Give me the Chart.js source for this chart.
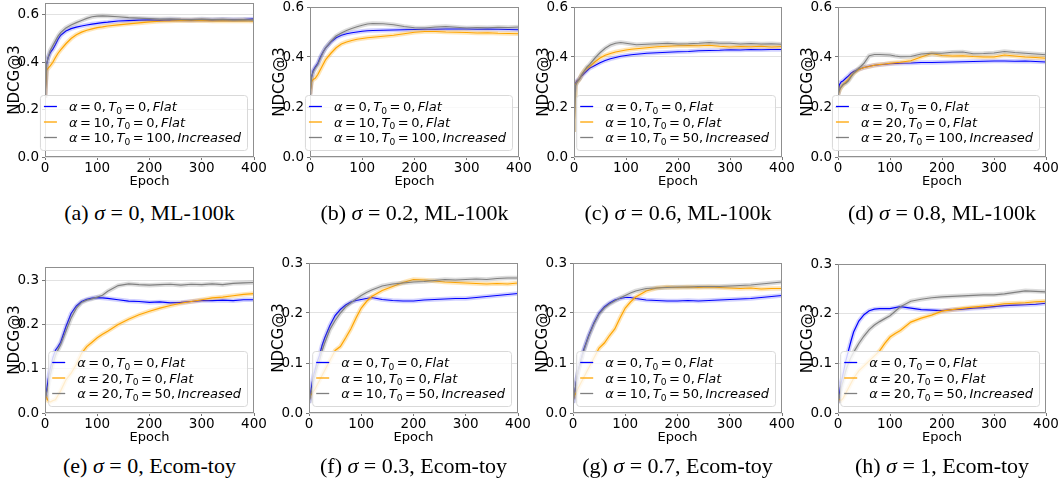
<!DOCTYPE html>
<html><head><meta charset="utf-8">
<script src="https://cdn.jsdelivr.net/npm/chart.js@4.4.0/dist/chart.umd.min.js"></script>
<style>
body{margin:0;background:#fff;width:1060px;height:482px;overflow:hidden;position:relative}
canvas{position:absolute}
.cap{position:absolute;font-family:'Liberation Serif','Times New Roman',serif;font-size:22px;line-height:26px;height:26px;white-space:nowrap;transform:translateX(-50%);color:#000}
</style></head><body>
<script>
// ---------------- DATA ----------------
const epochs = [0,3,6,10,15,20,25,30,40,50,60,70,80,90,100,110,120,140,160,180,200,220,240,260,280,300,320,340,360,380,400];
const xTicks = [0,100,200,300,400];
const topTicks = [0,0.2,0.4,0.6];
const botTicks = [0,0.1,0.2,0.3];

// (a) sigma=0, ML-100k
const aBlue   = [0.25,0.39,0.42,0.44,0.455,0.475,0.497,0.514,0.532,0.542,0.548,0.553,0.557,0.561,0.564,0.567,0.569,0.574,0.576,0.578,0.579,0.577,0.579,0.578,0.577,0.579,0.578,0.58,0.579,0.58,0.583];
const aOrange = [0.25,0.365,0.375,0.385,0.4,0.42,0.438,0.452,0.478,0.5,0.516,0.527,0.535,0.541,0.546,0.549,0.553,0.558,0.562,0.566,0.57,0.573,0.574,0.576,0.575,0.576,0.574,0.575,0.574,0.575,0.573];
const aGray   = [0.25,0.39,0.42,0.45,0.47,0.49,0.51,0.525,0.545,0.557,0.567,0.576,0.585,0.592,0.595,0.596,0.595,0.592,0.588,0.586,0.584,0.582,0.583,0.581,0.58,0.582,0.58,0.581,0.579,0.58,0.578];
// (b) sigma=0.2, ML-100k
const bBlue   = [0.25,0.32,0.345,0.36,0.375,0.4,0.42,0.437,0.46,0.477,0.487,0.493,0.497,0.5,0.503,0.505,0.506,0.507,0.508,0.509,0.51,0.511,0.511,0.512,0.512,0.512,0.511,0.512,0.511,0.51,0.509];
const bOrange = [0.25,0.3,0.31,0.315,0.33,0.35,0.37,0.39,0.415,0.437,0.452,0.46,0.466,0.471,0.474,0.477,0.479,0.483,0.487,0.493,0.499,0.502,0.502,0.5,0.499,0.498,0.496,0.497,0.495,0.494,0.493];
const bGray   = [0.25,0.32,0.34,0.355,0.37,0.395,0.418,0.437,0.462,0.484,0.496,0.506,0.514,0.521,0.527,0.532,0.534,0.533,0.529,0.522,0.517,0.516,0.52,0.522,0.519,0.516,0.518,0.517,0.519,0.518,0.52];
// (c) sigma=0.6, ML-100k
const cBlue   = [0.26,0.295,0.305,0.312,0.325,0.335,0.345,0.355,0.366,0.377,0.386,0.393,0.398,0.403,0.406,0.409,0.411,0.415,0.417,0.419,0.421,0.422,0.425,0.426,0.427,0.429,0.428,0.43,0.429,0.43,0.43];
const cOrange = [0.1,0.29,0.3,0.31,0.33,0.345,0.355,0.362,0.38,0.396,0.407,0.414,0.42,0.424,0.428,0.431,0.433,0.437,0.441,0.443,0.445,0.446,0.445,0.447,0.443,0.44,0.442,0.441,0.443,0.44,0.442];
const cGray   = [0.1,0.285,0.3,0.31,0.33,0.345,0.36,0.37,0.395,0.417,0.435,0.448,0.455,0.458,0.455,0.452,0.449,0.451,0.453,0.455,0.452,0.453,0.455,0.458,0.455,0.455,0.452,0.454,0.452,0.453,0.451];
// (d) sigma=0.8, ML-100k
const dBlue   = [0.25,0.29,0.3,0.305,0.315,0.324,0.335,0.342,0.351,0.358,0.363,0.367,0.369,0.371,0.373,0.374,0.375,0.376,0.378,0.378,0.379,0.38,0.381,0.382,0.383,0.384,0.384,0.383,0.384,0.382,0.38];
const dOrange = [0.25,0.268,0.28,0.29,0.3,0.31,0.325,0.335,0.35,0.358,0.362,0.367,0.37,0.372,0.375,0.377,0.379,0.385,0.4,0.414,0.406,0.404,0.405,0.402,0.4,0.4,0.408,0.404,0.4,0.398,0.395];
const dGray   = [0.25,0.27,0.28,0.29,0.295,0.305,0.32,0.335,0.355,0.375,0.405,0.41,0.41,0.409,0.408,0.404,0.401,0.402,0.412,0.415,0.415,0.419,0.42,0.413,0.414,0.416,0.422,0.418,0.415,0.412,0.409];
// (e) sigma=0, Ecom-toy
const eBlue   = [0.03,0.05,0.075,0.1,0.125,0.142,0.15,0.16,0.195,0.225,0.242,0.252,0.257,0.26,0.261,0.26,0.259,0.256,0.253,0.252,0.25,0.251,0.249,0.25,0.252,0.254,0.254,0.255,0.254,0.256,0.256];
const eOrange = [0.04,0.035,0.028,0.025,0.028,0.03,0.04,0.05,0.075,0.09,0.11,0.135,0.15,0.16,0.17,0.178,0.185,0.2,0.212,0.222,0.23,0.237,0.243,0.248,0.252,0.256,0.26,0.262,0.265,0.268,0.27];
const eGray   = [0.03,0.045,0.06,0.085,0.11,0.13,0.143,0.155,0.185,0.215,0.237,0.25,0.255,0.258,0.262,0.266,0.275,0.288,0.292,0.29,0.289,0.29,0.291,0.289,0.291,0.29,0.292,0.29,0.293,0.294,0.295];
// (f) sigma=0.3, Ecom-toy
const fBlue   = [0.02,0.04,0.06,0.08,0.1,0.115,0.135,0.15,0.175,0.195,0.207,0.216,0.222,0.225,0.227,0.229,0.231,0.227,0.225,0.224,0.224,0.226,0.227,0.228,0.229,0.229,0.231,0.233,0.235,0.237,0.239];
const fOrange = [0.03,0.035,0.04,0.045,0.055,0.065,0.075,0.085,0.105,0.125,0.133,0.15,0.168,0.19,0.21,0.223,0.233,0.245,0.253,0.261,0.267,0.266,0.264,0.262,0.261,0.26,0.259,0.258,0.259,0.258,0.26];
const fGray   = [0.02,0.035,0.05,0.07,0.09,0.105,0.125,0.14,0.167,0.185,0.2,0.212,0.22,0.228,0.235,0.241,0.246,0.254,0.258,0.26,0.262,0.263,0.265,0.267,0.266,0.267,0.268,0.267,0.269,0.27,0.27];
// (g) sigma=0.7, Ecom-toy
const gBlue   = [0.02,0.04,0.06,0.085,0.105,0.125,0.14,0.155,0.18,0.2,0.212,0.22,0.226,0.229,0.231,0.231,0.229,0.226,0.225,0.224,0.224,0.225,0.224,0.225,0.226,0.227,0.228,0.229,0.231,0.233,0.235];
const gOrange = [0.03,0.035,0.04,0.05,0.06,0.07,0.08,0.09,0.11,0.13,0.14,0.155,0.168,0.19,0.21,0.222,0.232,0.244,0.25,0.252,0.251,0.252,0.251,0.252,0.251,0.25,0.249,0.25,0.248,0.249,0.249];
const gGray   = [0.02,0.04,0.06,0.083,0.103,0.122,0.138,0.153,0.178,0.198,0.21,0.218,0.224,0.23,0.235,0.24,0.244,0.249,0.25,0.251,0.252,0.252,0.253,0.253,0.253,0.254,0.255,0.256,0.258,0.26,0.262];
// (h) sigma=1, Ecom-toy
const hBlue   = [0.02,0.04,0.06,0.08,0.105,0.125,0.145,0.163,0.185,0.198,0.206,0.209,0.21,0.21,0.21,0.212,0.214,0.211,0.208,0.207,0.206,0.208,0.209,0.211,0.212,0.214,0.216,0.217,0.218,0.219,0.221];
const hOrange = [0.03,0.027,0.025,0.03,0.04,0.05,0.06,0.07,0.085,0.095,0.105,0.115,0.125,0.14,0.153,0.16,0.166,0.183,0.191,0.197,0.205,0.208,0.211,0.213,0.215,0.217,0.22,0.221,0.222,0.224,0.225];
const hGray   = [0.02,0.035,0.05,0.065,0.085,0.1,0.112,0.122,0.14,0.155,0.168,0.177,0.184,0.19,0.196,0.205,0.214,0.225,0.229,0.232,0.234,0.235,0.236,0.237,0.238,0.238,0.24,0.243,0.246,0.245,0.244];

// legend parameters per panel: alpha values, T0 values, schedules
const legAlpha = [[0,10,10],[0,10,10],[0,10,10],[0,20,20],[0,20,20],[0,10,10],[0,10,10],[0,20,20]];
const legT0    = [[0,0,100],[0,0,100],[0,0,50],[0,0,100],[0,0,50],[0,0,50],[0,0,50],[0,0,50]];
const schedules = ['Flat','Flat','Increased'];
// captions
const capLetters = ['a','b','c','d','e','f','g','h'];
const capSigmas  = ['0','0.2','0.6','0.8','0','0.3','0.7','1'];
const capData    = ['ML-100k','ML-100k','ML-100k','ML-100k','Ecom-toy','Ecom-toy','Ecom-toy','Ecom-toy'];
const yMaxes     = [0.65,0.6,0.6,0.6,0.33,0.3,0.3,0.3];

// ---------------- LAYOUT ----------------
const panels = [
  {L:45, R:254, T:3,   B:157, row:0, s:[aBlue,aOrange,aGray]},
  {L:310,R:519, T:7,   B:157, row:0, s:[bBlue,bOrange,bGray]},
  {L:574,R:782, T:7,   B:157, row:0, s:[cBlue,cOrange,cGray]},
  {L:838,R:1046,T:7,   B:157, row:0, s:[dBlue,dOrange,dGray]},
  {L:45, R:254, T:267, B:413, row:1, s:[eBlue,eOrange,eGray]},
  {L:309,R:518, T:263, B:413, row:1, s:[fBlue,fOrange,fGray]},
  {L:573,R:782, T:263, B:413, row:1, s:[gBlue,gOrange,gGray]},
  {L:838,R:1046,T:264, B:413, row:1, s:[hBlue,hOrange,hGray]}
];
const COLORS = ['#0000ff','#ffa500','#808080'];
const BANDS  = ['rgba(0,0,255,0.18)','rgba(255,165,0,0.28)','rgba(128,128,128,0.28)'];
const FONT = '"DejaVu Sans", Verdana, sans-serif';

// segment list: text + style; 'g' entries are gaps in em
function legendSegments(a, t, s) {
  return [
    {t:'α', st:'i'}, {g:0.2}, {t:'=', st:'n'}, {g:0.2}, {t:String(a), st:'n'}, {t:',', st:'n'}, {g:0.17},
    {t:'T', st:'i'}, {t:'0', st:'s'}, {g:0.2}, {t:'=', st:'n'}, {g:0.2}, {t:String(t), st:'n'},
    {t:',', st:'n'}, {g:0.17}, {t:s, st:'i'}
  ];
}
function segFont(st, fs) {
  if (st === 'i') return 'italic ' + fs + 'px ' + FONT;
  if (st === 's') return (fs*0.7).toFixed(1) + 'px ' + FONT;
  return fs + 'px ' + FONT;
}
function segWidth(ctx, sg, fs) {
  if (sg.g !== undefined) return sg.g * fs;
  ctx.font = segFont(sg.st, fs);
  return ctx.measureText(sg.t).width;
}
function measureSegs(ctx, segs, fs) {
  let w = 0;
  segs.forEach(sg => { w += segWidth(ctx, sg, fs); });
  return w;
}

panels.forEach((p, k) => {
  const top = p.row === 0 ? 0 : 250;
  const left = p.L - 45;
  const w = p.R - p.L + 45 + 14;
  const h = p.B - top + 33;
  const cv = document.createElement('canvas');
  cv.width = w; cv.height = h;
  cv.style.left = left + 'px'; cv.style.top = top + 'px';
  document.body.appendChild(cv);
  const yTicks = p.row === 0 ? topTicks : botTicks;

  const datasets = [];
  p.s.forEach((ser, i) => {
    const pts = epochs.map((e, j) => ({x:e, y:ser[j]}));
    datasets.push({data:pts, borderColor:COLORS[i], borderWidth:1.2, pointRadius:0, tension:0, order:2*(2-i)});
    datasets.push({data:pts, borderColor:BANDS[i], borderWidth:4.5, pointRadius:0, tension:0, order:2*(2-i)+1});
  });

  const framePlugin = {
    id:'frame'+k,
    afterDraw(chart) {
      const ctx = chart.ctx, ca = chart.chartArea;
      ctx.save();
      ctx.strokeStyle = '#8f8f8f'; ctx.lineWidth = 1;
      ctx.strokeRect(Math.round(ca.left)+0.5, Math.round(ca.top)+0.5, Math.round(ca.right-ca.left)-1, Math.round(ca.bottom-ca.top)-1);
      // legend
      const fs = 13;
      const rows = [0,1,2].map(i => legendSegments(legAlpha[k][i], legT0[k][i], schedules[i]));
      const tw = Math.max(...rows.map(r => measureSegs(ctx, r, fs)));
      const boxR = ca.right - 7, boxB = ca.bottom - 7;
      const boxW = 29 + tw + 6, boxH = 55;
      const boxL = boxR - boxW, boxT = boxB - boxH;
      ctx.beginPath();
      ctx.roundRect(boxL+0.5, boxT+0.5, boxW, boxH, 3);
      ctx.fillStyle = 'rgba(255,255,255,0.8)'; ctx.fill();
      ctx.strokeStyle = '#d9d9d9'; ctx.stroke();
      rows.forEach((r, i) => {
        const cy = boxT + 11.5 + i*15.5;
        ctx.beginPath();
        ctx.strokeStyle = COLORS[i]; ctx.lineWidth = 1.3;
        ctx.moveTo(boxL+4, cy); ctx.lineTo(boxL+17, cy); ctx.stroke();
        let x = boxL + 29;
        ctx.fillStyle = '#000'; ctx.textBaseline = 'alphabetic'; ctx.textAlign = 'left';
        r.forEach(sg => {
          if (sg.g === undefined) {
            ctx.font = segFont(sg.st, fs);
            ctx.fillText(sg.t, x, cy + 4.7 + (sg.st === 's' ? 2.6 : 0));
          }
          x += segWidth(ctx, sg, fs);
        });
      });
      ctx.restore();
    }
  };

  new Chart(cv, {
    type:'line',
    data:{datasets},
    options:{
      responsive:false, animation:false, devicePixelRatio:1,
      layout:{padding:{top:p.T - top, right:14, left:0, bottom:0}},
      plugins:{legend:{display:false}, tooltip:{enabled:false}},
      scales:{
        x:{
          type:'linear', min:0, max:400,
          afterBuildTicks: s => { s.ticks = xTicks.map(v => ({value:v})); },
          afterFit: s => { s.height = 33; s.paddingLeft = 0; s.paddingRight = 0; },
          grid:{drawOnChartArea:false, drawTicks:true, tickLength:3, tickColor:'#777'},
          border:{display:false},
          ticks:{font:{family:FONT, size:13.5, lineHeight:1}, color:'#000', padding:1.5, maxRotation:0, autoSkip:false},
          title:{display:true, text:'Epoch', font:{family:FONT, size:13, lineHeight:1.2}, color:'#000', padding:{top:0, bottom:1}}
        },
        y:{
          min:0, max:yMaxes[k],
          afterBuildTicks: s => { s.ticks = yTicks.map(v => ({value:v})); },
          afterFit: s => { s.width = 45; s.paddingTop = 0; s.paddingBottom = 0; },
          grid:{color:'#e2e2e2', lineWidth:1, drawTicks:true, tickLength:3, tickColor:'#777'},
          border:{display:false},
          ticks:{font:{family:FONT, size:13.5, lineHeight:1}, color:'#000', padding:3, callback: v => Number(v).toFixed(1)},
          title:{display:true, text:'NDCG@3', font:{family:FONT, size:15, lineHeight:1.2}, color:'#000', padding:{top:6, bottom:0}}
        }
      }
    },
    plugins:[framePlugin]
  });

  const cap = document.createElement('div');
  cap.className = 'cap';
  cap.style.left = ((p.L + p.R)/2) + 'px';
  cap.style.top = ((p.row === 0 ? 213 : 466) - 13) + 'px';
  cap.innerHTML = '(' + capLetters[k] + ') <i>σ</i> = ' + capSigmas[k] + ', ' + capData[k];
  document.body.appendChild(cap);
});
</script>
</body></html>
